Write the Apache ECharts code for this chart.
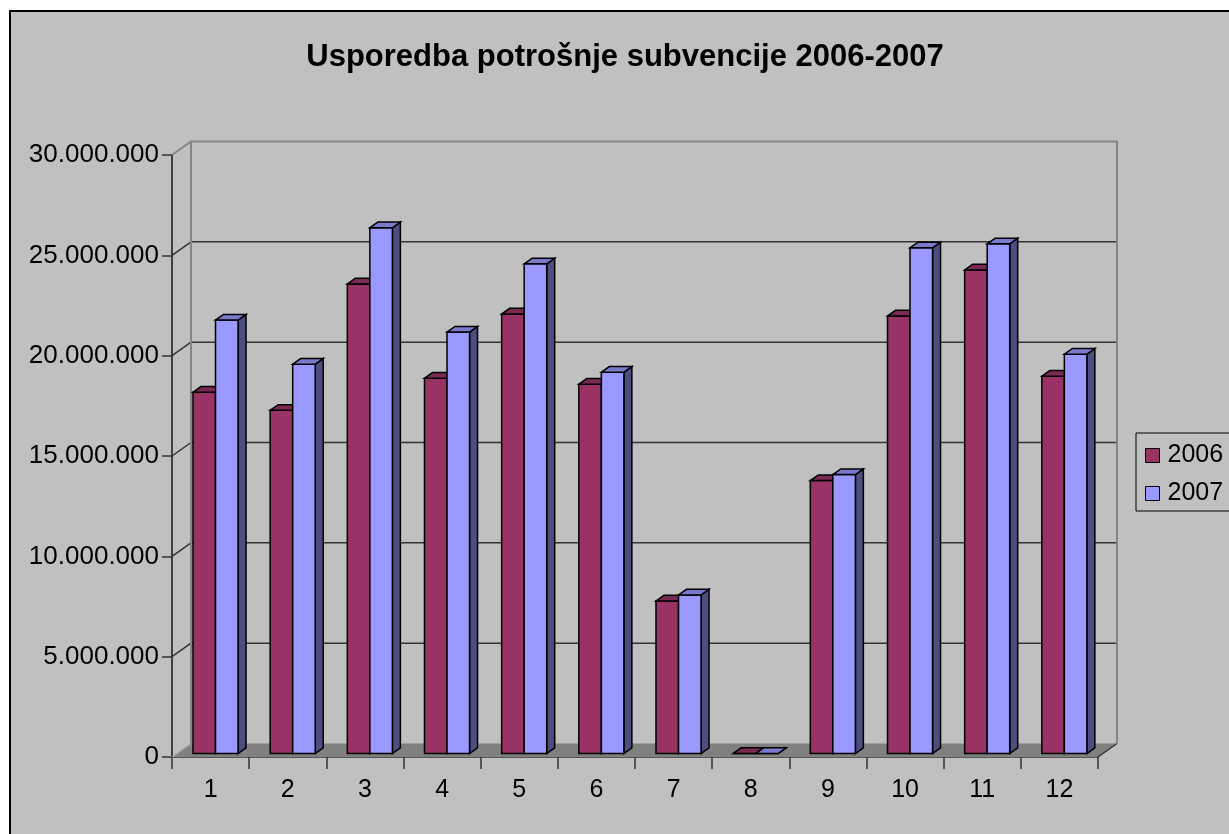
<!DOCTYPE html>
<html>
<head>
<meta charset="utf-8">
<title>Usporedba potrošnje subvencije 2006-2007</title>
<script src="https://cdn.jsdelivr.net/npm/echarts@6/dist/echarts.min.js"></script>
<style>
  html, body { margin: 0; padding: 0; background: #ffffff; }
  #chart { width: 1229px; height: 834px; }
</style>
</head>
<body>
<div id="chart"></div>
<script>
// Monthly subsidy spending, 2006 vs 2007
const months = ['1', '2', '3', '4', '5', '6', '7', '8', '9', '10', '11', '12'];
const spend2006 = [18000000, 17100000, 23400000, 18700000, 21900000, 18400000, 7600000, 0, 13600000, 21800000, 24100000, 18800000];
const spend2007 = [21600000, 19400000, 26200000, 21000000, 24400000, 19000000, 7900000, 0, 13900000, 25200000, 25400000, 19900000];
const yTicks = [0, 5000000, 10000000, 15000000, 20000000, 25000000, 30000000];
const Y_MAX = 30000000;
const Y_STEP = 5000000;

// pseudo-3D depth of the plot box (full depth offset in px)
const DX = 19, DY = -13.5;
// bar depth span (fractions of full depth) and width (fraction of category)
const F0 = 0.26, F1 = 0.68, BAR_FRAC = 0.292;

const FONT = '"Liberation Sans", Arial, sans-serif';

function fmt(v) {
  return String(v).replace(/\B(?=(\d{3})+(?!\d))/g, '.');
}

function wallsRender(params, api) {
  const c0 = api.coord([0, 0]);
  const cw = api.size([1, 0])[0];
  const left = c0[0] - cw / 2;
  const right = left + cw * months.length;
  const yb = c0[1];
  const yt = api.coord([0, Y_MAX])[1];
  const children = [];
  // floor
  children.push({
    type: 'polygon',
    shape: { points: [[left, yb], [right, yb], [right + DX, yb + DY], [left + DX, yb + DY]] },
    style: { fill: '#808080', stroke: null }
  });
  children.push({
    type: 'line',
    shape: { x1: left, y1: yb, x2: left + DX, y2: yb + DY },
    style: { stroke: '#a8a8a8', lineWidth: 1.5 }
  });
  children.push({
    type: 'line',
    shape: { x1: right, y1: yb, x2: right + DX, y2: yb + DY },
    style: { stroke: '#333333', lineWidth: 1.5 }
  });
  // gridlines on back wall + left wall
  yTicks.forEach(function (t) {
    if (t === 0 || t === Y_MAX) return;
    const y = api.coord([0, t])[1];
    children.push({
      type: 'line',
      shape: { x1: left + DX, y1: y + DY, x2: right + DX, y2: y + DY },
      style: { stroke: '#333333', lineWidth: 1.5 }
    });
    children.push({
      type: 'line',
      shape: { x1: left, y1: y, x2: left + DX, y2: y + DY },
      style: { stroke: '#333333', lineWidth: 1.5 }
    });
  });
  // wall edges
  children.push({
    type: 'polyline',
    shape: { points: [[left, yt], [left + DX, yt + DY], [right + DX, yt + DY], [right + DX, yb + DY]] },
    style: { stroke: '#858585', lineWidth: 2, fill: null }
  });
  children.push({
    type: 'line',
    shape: { x1: left + DX, y1: yt + DY, x2: left + DX, y2: yb + DY },
    style: { stroke: '#858585', lineWidth: 2 }
  });
  return { type: 'group', children: children };
}

function barRender(side, front, topC, sideC) {
  return function (params, api) {
    const i = api.value(0), v = api.value(1);
    const base = api.coord([i, 0]);
    const top = api.coord([i, v]);
    const cw = api.size([1, 0])[0];
    const w = cw * BAR_FRAC;
    const x0 = base[0] + DX * F0 + (side < 0 ? -w : 0);
    const x1 = x0 + w;
    const ybot = base[1] + DY * F0;
    const ytop = top[1] + DY * F0;
    const ddx = DX * (F1 - F0), ddy = DY * (F1 - F0);
    const stroke = { stroke: '#000000', lineWidth: 1.5, lineJoin: 'miter' };
    return {
      type: 'group',
      children: [
        {
          type: 'polygon',
          shape: { points: [[x1, ytop], [x1 + ddx, ytop + ddy], [x1 + ddx, ybot + ddy], [x1, ybot]] },
          style: Object.assign({ fill: sideC }, stroke)
        },
        {
          type: 'polygon',
          shape: { points: [[x0, ybot], [x0, ytop], [x1, ytop], [x1, ybot]] },
          style: Object.assign({ fill: front }, stroke)
        },
        {
          type: 'polygon',
          shape: { points: [[x0, ytop], [x1, ytop], [x1 + ddx, ytop + ddy], [x0 + ddx, ytop + ddy]] },
          style: Object.assign({ fill: topC }, stroke)
        }
      ]
    };
  };
}

const chart = echarts.init(document.getElementById('chart'), null, { renderer: 'canvas' });

chart.setOption({
  animation: false,
  backgroundColor: 'transparent',
  graphic: [
    {
      type: 'rect',
      z: -100,
      silent: true,
      shape: { x: 10, y: 11, width: 1300, height: 900 },
      style: { fill: '#c0c0c0', stroke: '#000000', lineWidth: 2 }
    },
    {
      type: 'text',
      z: 10,
      x: 625,
      y: 57,
      style: {
        text: 'Usporedba potrošnje subvencije 2006-2007',
        fontFamily: FONT,
        fontSize: 31,
        fontWeight: 'bold',
        fill: '#000000',
        align: 'center',
        verticalAlign: 'middle'
      }
    }
  ],
  legend: {
    orient: 'vertical',
    left: 1136,
    top: 433,
    padding: [10, 10, 5, 9],
    itemGap: 13,
    itemWidth: 14,
    itemHeight: 14,
    icon: 'rect',
    borderColor: '#000000',
    borderWidth: 1,
    backgroundColor: 'transparent',
    itemStyle: { borderColor: '#000000', borderWidth: 1 },
    textStyle: { fontFamily: FONT, fontSize: 25, color: '#000000', padding: [0, 0, 0, 3] },
    data: ['2006', '2007']
  },
  grid: { left: 172, top: 155, width: 926, height: 602, containLabel: false },
  xAxis: {
    type: 'category',
    data: months,
    boundaryGap: true,
    axisLine: { lineStyle: { color: '#333333', width: 1.5 } },
    axisTick: { show: true, alignWithLabel: false, length: 12, lineStyle: { color: '#333333', width: 1.5 } },
    axisLabel: { margin: 21, fontFamily: FONT, fontSize: 25, color: '#000000' },
    splitLine: { show: false }
  },
  yAxis: {
    type: 'value',
    min: 0,
    max: Y_MAX,
    interval: Y_STEP,
    axisLine: { show: true, lineStyle: { color: '#404040', width: 2 } },
    axisTick: { show: true, length: 10, lineStyle: { color: '#333333', width: 1.5 } },
    axisLabel: { margin: 13, fontFamily: FONT, fontSize: 26, color: '#000000', formatter: fmt },
    splitLine: { show: false }
  },
  series: [
    {
      name: 'walls',
      type: 'custom',
      silent: true,
      z: 1,
      renderItem: wallsRender,
      data: [[0, 0]]
    },
    {
      name: '2006',
      type: 'custom',
      z: 3,
      itemStyle: { color: '#993366' },
      renderItem: barRender(-1, '#993366', '#7a2952', '#4d1a33'),
      data: spend2006.map(function (v, i) { return [i, v]; })
    },
    {
      name: '2007',
      type: 'custom',
      z: 4,
      itemStyle: { color: '#9999ff' },
      renderItem: barRender(1, '#9999ff', '#7a7acc', '#4d4d80'),
      data: spend2007.map(function (v, i) { return [i, v]; })
    }
  ]
});
</script>
</body>
</html>
